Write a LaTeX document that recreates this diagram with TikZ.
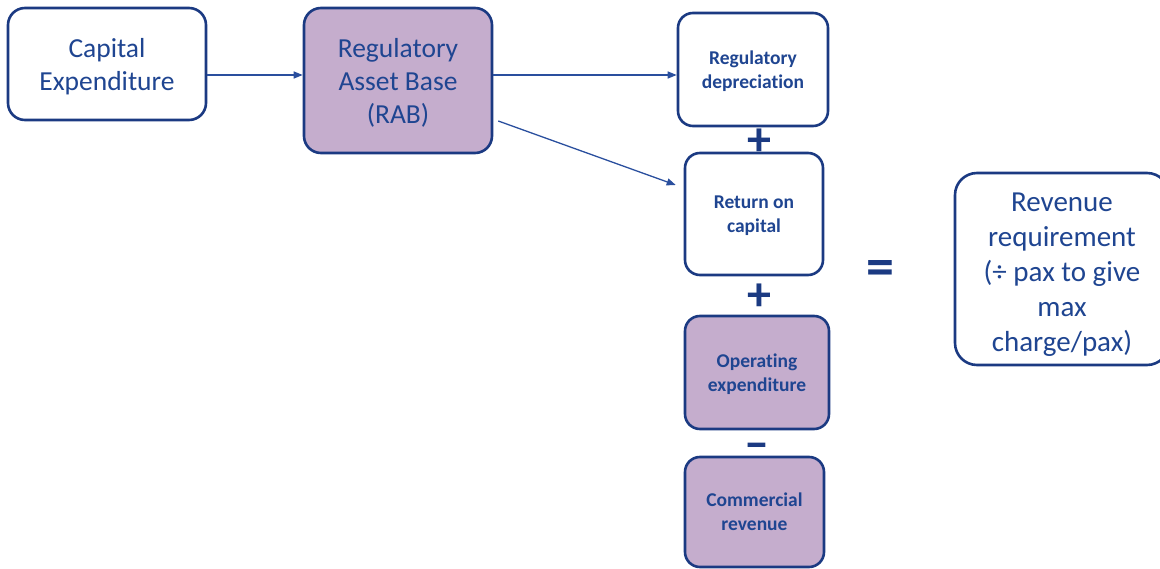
\documentclass[tikz,border=0pt]{standalone}
\usepackage{fontspec}
\setmainfont{Carlito}[Ligatures=NoCommon]
\usetikzlibrary{arrows.meta}
\definecolor{navy}{HTML}{1B3A82}
\definecolor{txtblue}{HTML}{1F4591}
\definecolor{arrblue}{HTML}{2A4F9E}
\definecolor{lilac}{HTML}{C5ADCD}
\tikzset{
  box/.style={draw=navy, line width=2.6pt, rounded corners=17pt, text=txtblue, align=center, inner sep=0pt, text depth=0pt},
  bigtext/.style={font=\fontsize{27.5}{33}\selectfont},
  smalltext/.style={font=\bfseries\fontsize{19.5}{24}\selectfont},
  arr/.style={draw=arrblue, line width=1.3pt, -{Triangle[length=9pt,width=7pt]}},
  sym/.style={text=navy, font=\bfseries\fontsize{48}{48}\selectfont, inner sep=0pt}
}
\begin{document}
\begin{tikzpicture}[x=1pt,y=-1pt]
\useasboundingbox (0,0) rectangle (1160,569);
\node[box,bigtext,fill=white,minimum width=198pt,minimum height=112pt] (capex) at (107,64) {Capital\\Expenditure};
\node[box,bigtext,fill=lilac,minimum width=188pt,minimum height=145pt] (rab) at (398,80.5) {Regulatory\\Asset Base\\(RAB)};
\node[box,smalltext,fill=white,minimum width=150pt,minimum height=113pt,rounded corners=15pt] (dep) at (753,69.5) {Regulatory\\depreciation};
\node[box,smalltext,fill=white,minimum width=138pt,minimum height=122pt,rounded corners=15pt] (ret) at (754,214) {Return on\\capital};
\node[box,smalltext,fill=lilac,minimum width=144pt,minimum height=113pt,rounded corners=15pt] (opex) at (757,372.5) {Operating\\expenditure};
\node[box,smalltext,fill=lilac,minimum width=139pt,minimum height=110pt,rounded corners=15pt] (comm) at (754.5,512) {Commercial\\revenue};
\node[box,font=\fontsize{29}{35}\selectfont,fill=white,minimum width=214pt,minimum height=192pt,rounded corners=22pt,text height=166pt] (rev) at (1062,269) {Revenue\\requirement\\(÷ pax to give\\max\\charge/pax)};
\node[sym] (plus1) at (759,142) {+};
\node[sym] (plus2) at (759,297) {+};
\node[sym,font=\bfseries\fontsize{50}{50}\selectfont] (minus) at (757,451) {–};
\node[sym,font=\bfseries\fontsize{56}{56}\selectfont] (eq) at (880,273) {=};
\draw[arr] (capex.east |- 0,75) -- (rab.west |- 0,75);
\draw[arr] (rab.east |- 0,75) -- (dep.west |- 0,75);
\draw[arr] ([xshift=5pt,yshift=-40.5pt]rab.east) -- ([xshift=-8pt,yshift=29pt]ret.west);
\end{tikzpicture}
\end{document}
